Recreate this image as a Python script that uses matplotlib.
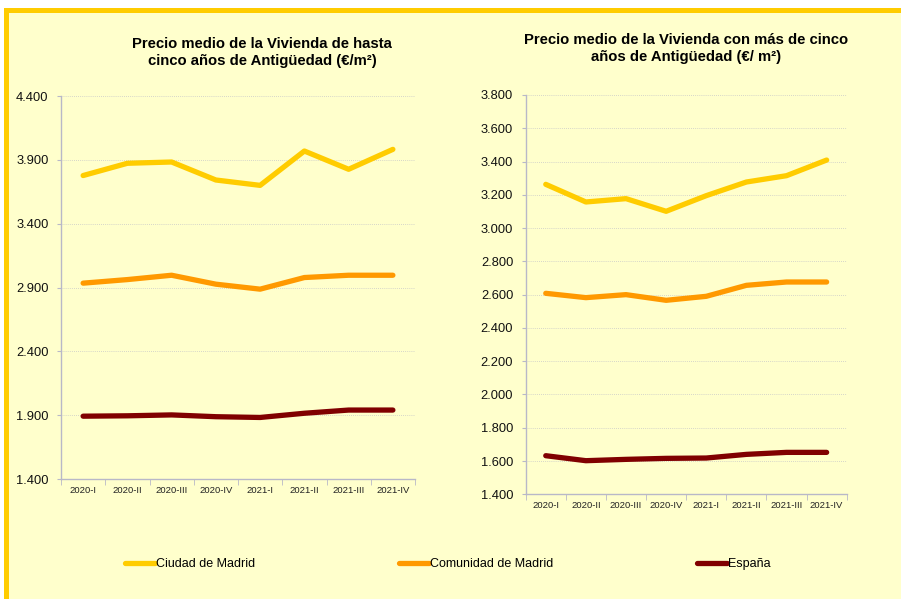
import numpy as np
import matplotlib.pyplot as plt
from matplotlib.patches import Rectangle
from matplotlib.lines import Line2D
from matplotlib.ticker import FuncFormatter

plt.rcParams["font.family"] = ["Liberation Sans", "DejaVu Sans"]

# Datos
trimestres = ["2020-I", "2020-II", "2020-III", "2020-IV",
              "2021-I", "2021-II", "2021-III", "2021-IV"]
series = ["Ciudad de Madrid", "Comunidad de Madrid", "España"]

# Vivienda de hasta cinco años
nueva_ciudad = [3777, 3873, 3883, 3742, 3700, 3969, 3826, 3982]
nueva_comunidad = [2934, 2962, 2996, 2926, 2887, 2978, 2996, 2996]
nueva_espana = [1892, 1895, 1902, 1888, 1882, 1915, 1940, 1940]

# Vivienda con más de cinco años
usada_ciudad = [3263, 3157, 3177, 3101, 3195, 3277, 3315, 3409]
usada_comunidad = [2608, 2582, 2600, 2566, 2590, 2656, 2676, 2676]
usada_espana = [1632, 1602, 1610, 1616, 1618, 1640, 1652, 1652]

colores = ["#FFCC00", "#FF9900", "#800000"]
fondo = "#FFFFCC"
W, H = 901, 599

fig = plt.figure(figsize=(9.01, 5.99), dpi=100, facecolor="white")

# Fondo y bordes
fig.patches.append(Rectangle((4 / W, 0), 1, 1 - 8 / H, transform=fig.transFigure,
                             facecolor=fondo, edgecolor="none", zorder=-10))
fig.patches.append(Rectangle((4 / W, 1 - 13 / H), 1, 5 / H, transform=fig.transFigure,
                             facecolor="#FFCC00", edgecolor="none", zorder=-9))
fig.patches.append(Rectangle((4 / W, 0), 5 / W, 1 - 8 / H, transform=fig.transFigure,
                             facecolor="#FFCC00", edgecolor="none", zorder=-9))


def miles(v, pos):
    return f"{v:,.0f}".replace(",", ".")


def dibujar(rect, datos, ymin, ymax, paso):
    ax = fig.add_axes(rect)
    ax.set_facecolor("none")
    x = np.arange(len(trimestres))
    for vals, c in zip(datos, colores):
        ax.plot(x, vals, color=c, linewidth=3.8, solid_capstyle="round",
                solid_joinstyle="round")
    ax.set_xlim(-0.5, len(trimestres) - 0.5)
    ax.set_ylim(ymin, ymax)
    ax.set_yticks(np.arange(ymin, ymax + 1, paso))
    ax.yaxis.set_major_formatter(FuncFormatter(miles))
    ax.set_xticks(x)
    ax.set_xticklabels(trimestres, fontsize=6.8, color="#222222")
    ax.set_xticks(np.arange(-0.5, len(trimestres)), minor=True)
    ax.tick_params(axis="x", which="major", length=0, pad=5)
    ax.tick_params(axis="x", which="minor", length=4, color="#B8B8C8", direction="out")
    ax.tick_params(axis="y", labelsize=9.3, length=3, color="#B8B8C8", pad=6,
                   labelcolor="#111111")
    ax.grid(axis="y", color="#C8C8C8", linestyle=(0, (1, 1.5)), linewidth=0.6)
    for s in ["top", "right"]:
        ax.spines[s].set_visible(False)
    for s in ["left", "bottom"]:
        ax.spines[s].set_color("#B8B8C8")
        ax.spines[s].set_linewidth(1.0)
    ax.set_axisbelow(True)
    return ax


dibujar([61 / W, 1 - 479 / H, (415 - 61) / W, (479 - 96) / H],
        [nueva_ciudad, nueva_comunidad, nueva_espana], 1400, 4400, 500)
dibujar([525.7 / W, 1 - 494.3 / H, (846.7 - 525.7) / W, (494.3 - 95) / H],
        [usada_ciudad, usada_comunidad, usada_espana], 1400, 3800, 200)

# Títulos
fig.text(262 / W, 1 - 52.5 / H,
         "Precio medio de la Vivienda de hasta\ncinco años de Antigüedad (€/m²)",
         ha="center", va="center", fontsize=10.7, fontweight="bold", linespacing=1.2)
fig.text(685.7 / W, 1 - 48.5 / H,
         "Precio medio de la Vivienda con más de cinco\naños de Antigüedad (€/ m²)",
         ha="center", va="center", fontsize=10.7, fontweight="bold", linespacing=1.2)

# Leyenda
handles = [Line2D([], [], color=c, linewidth=3.8, solid_capstyle="round") for c in colores]
fig.legend(handles, series, loc="center", bbox_to_anchor=(0.497, 1 - 564 / H),
           ncol=3, frameon=False, fontsize=9, handlelength=2.4, handletextpad=0.1,
           columnspacing=11.5)

fig.savefig("out.png", dpi=100, facecolor="white")
